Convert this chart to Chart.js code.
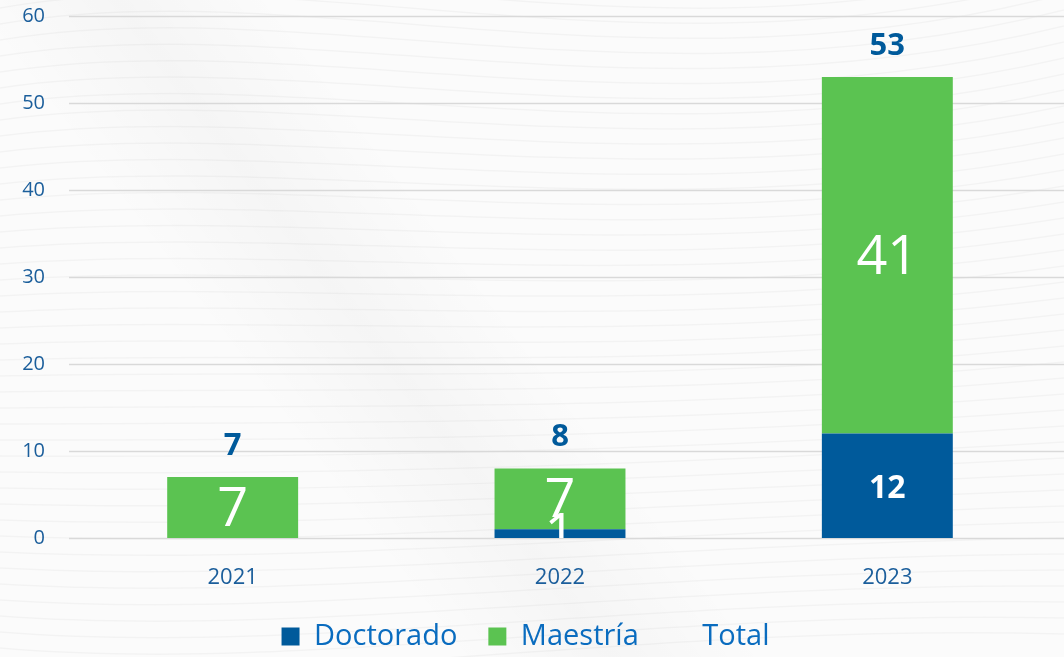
<!DOCTYPE html>
<html>
<head>
<meta charset="utf-8">
<script src="https://cdn.jsdelivr.net/npm/chart.js@4"></script>
<style>
  html, body { margin: 0; padding: 0; background: #fbfbfb; }
  #wrap { width: 1064px; height: 657px; }
</style>
</head>
<body>
<div id="wrap"><canvas id="chart"></canvas></div>
<script>
// Data
const years = ['2021', '2022', '2023'];
const doctorado = [0, 1, 12];
const maestria = [7, 7, 41];
const total = [7, 8, 53];
const yTicks = [0, 10, 20, 30, 40, 50, 60];

const BLUE = '#005a9b';
const GREEN = '#5bc351';
const FONT = "'Open Sans', sans-serif";

// soft wavy background, just decoration
const backdrop = {
  id: 'backdrop',
  beforeDraw(chart) {
    const { ctx, width, height } = chart;
    ctx.save();
    ctx.fillStyle = '#fbfbfb';
    ctx.fillRect(0, 0, width, height);
    ctx.strokeStyle = 'rgba(0,0,0,0.03)';
    ctx.lineWidth = 1.5;
    for (let i = 0; i < 45; i++) {
      const y0 = i * 16 - 40;
      ctx.beginPath();
      ctx.moveTo(0, y0);
      ctx.bezierCurveTo(300, y0 - 60 + i * 2, 650, y0 + 90 - i * 3, width, y0 - 30);
      ctx.stroke();
    }
    const g = ctx.createLinearGradient(300, 450, 500, 300);
    g.addColorStop(0, 'rgba(0,0,0,0)');
    g.addColorStop(0.5, 'rgba(0,0,0,0.025)');
    g.addColorStop(1, 'rgba(0,0,0,0)');
    ctx.fillStyle = g;
    ctx.fillRect(0, 0, width, height);
    ctx.restore();
  }
};

// keep the legend box short so it sits near the bottom edge
const legendHeight = {
  id: 'legendHeight',
  afterInit(chart) {
    const lg = chart.legend;
    if (!lg || lg._patched) return;
    const orig = lg.fit;
    lg.fit = function () {
      orig.call(this);
      this.height = 66;
    };
    lg._patched = true;
  }
};

// gridlines that run to the right edge of the canvas
const grid = {
  id: 'grid',
  beforeDatasetsDraw(chart) {
    const { ctx, width, chartArea, scales } = chart;
    ctx.save();
    ctx.strokeStyle = '#d9d9d9';
    ctx.lineWidth = 1.5;
    scales.y.ticks.forEach(t => {
      const py = Math.round(scales.y.getPixelForValue(t.value)) + 0.5;
      ctx.beginPath();
      ctx.moveTo(chartArea.left, py);
      ctx.lineTo(width, py);
      ctx.stroke();
    });
    ctx.restore();
  }
};

// label styles for the values inside the bars: [dataset][index]
const innerStyle = [
  [null, { size: 54, weight: 'normal' }, { size: 32, weight: 'bold' }],
  [{ size: 54, weight: 'normal' }, { size: 54, weight: 'normal' }, { size: 54, weight: 'normal' }]
];

const labels = {
  id: 'labels',
  afterDatasetsDraw(chart) {
    const { ctx, chartArea } = chart;
    ctx.save();
    ctx.textAlign = 'center';
    ctx.textBaseline = 'middle';
    [0, 1].forEach(di => {
      const meta = chart.getDatasetMeta(di);
      meta.data.forEach((bar, i) => {
        const v = chart.data.datasets[di].data[i];
        const st = innerStyle[di][i];
        if (!v || !st) return;
        ctx.save();
        ctx.beginPath();
        ctx.rect(chartArea.left, chartArea.top, chartArea.width, chartArea.height);
        ctx.clip();
        ctx.fillStyle = '#ffffff';
        ctx.font = `${st.weight} ${st.size}px ${FONT}`;
        ctx.fillText(String(v), bar.x, (bar.y + bar.base) / 2 + 3);
        ctx.restore();
      });
    });
    const tmeta = chart.getDatasetMeta(2);
    ctx.fillStyle = BLUE;
    ctx.font = `bold 31px ${FONT}`;
    tmeta.data.forEach((pt, i) => {
      ctx.fillText(String(total[i]), pt.x, pt.y - 31);
    });
    ctx.restore();
  }
};

new Chart(document.getElementById('chart'), {
  type: 'bar',
  data: {
    labels: years,
    datasets: [
      { label: 'Doctorado', data: doctorado, backgroundColor: BLUE, stack: 'a' },
      { label: 'Maestría', data: maestria, backgroundColor: GREEN, stack: 'a' },
      {
        label: 'Total', type: 'line', data: total, stack: 'b',
        showLine: false, pointRadius: 0, borderColor: 'rgba(0,0,0,0)', backgroundColor: 'rgba(0,0,0,0)'
      }
    ]
  },
  options: {
    responsive: true,
    maintainAspectRatio: false,
    animation: false,
    barPercentage: 0.4,
    categoryPercentage: 1,
    layout: { autoPadding: false, padding: { top: 16, right: 13, left: 0, bottom: 0 } },
    plugins: {
      legend: {
        position: 'bottom',
        labels: {
          color: '#0a6cbf',
          font: { family: FONT, size: 29 },
          boxWidth: 18,
          boxHeight: 18,
          padding: 31,
          sort: (a, b) => a.datasetIndex - b.datasetIndex
        }
      },
      tooltip: { enabled: false }
    },
    scales: {
      x: {
        stacked: true,
        grid: { display: false, drawTicks: false },
        border: { display: false },
        ticks: { color: '#1b5e9b', font: { family: FONT, size: 22 }, padding: 27 },
        afterFit(s) { s.height = 53; s.paddingLeft = 0; s.paddingRight = 0; }
      },
      y: {
        stacked: true,
        min: 0,
        max: 60,
        afterBuildTicks(s) { s.ticks = yTicks.map(v => ({ value: v })); },
        grid: { display: false, drawTicks: false },
        border: { display: false },
        ticks: { color: '#1b5e9b', font: { family: FONT, size: 20 }, padding: 24 },
        afterFit(s) { s.width = 69; s.paddingTop = 0; s.paddingBottom = 0; }
      }
    }
  },
  plugins: [backdrop, legendHeight, grid, labels]
});
</script>
</body>
</html>
